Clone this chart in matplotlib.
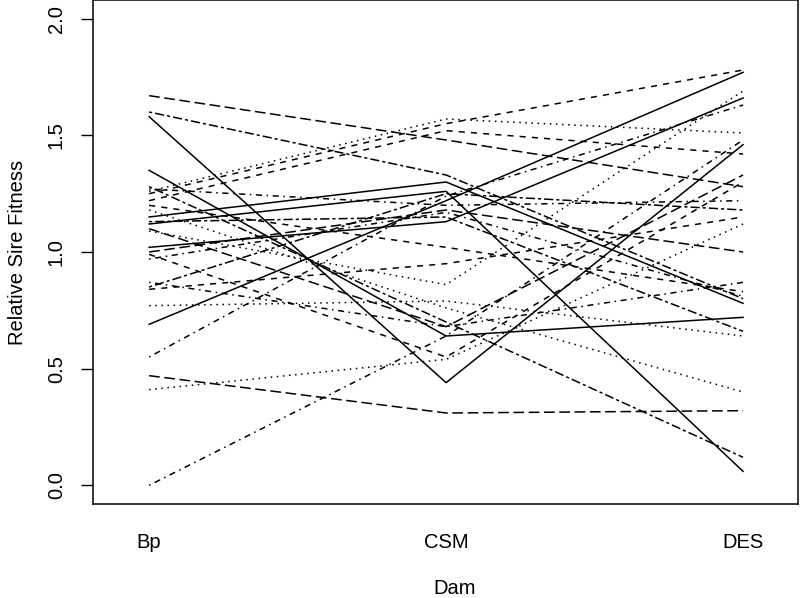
import matplotlib
matplotlib.use("Agg")
import matplotlib.pyplot as plt

dams = ['Bp', 'CSM', 'DES']

# fitness of each sire for the three dams (Bp, CSM, DES)
bp = [1.58, 1.35, 0.69, 1.15, 1.02, 1.12,
      1.25, 1.22, 0.84, 0.99, 1.20,
      1.26, 0.41, 1.18, 1.09, 0.77,
      0.00, 0.55, 0.87, 1.27, 0.97,
      1.67, 0.47, 1.10, 1.00,
      1.60, 1.28, 0.85, 1.13]
csm = [0.44, 0.64, 1.22, 1.30, 1.13, 1.26,
       1.55, 1.52, 0.95, 0.55, 1.02,
       1.57, 0.54, 0.76, 0.86, 0.79,
       0.64, 1.24, 0.68, 1.20, 1.17,
       1.48, 0.31, 0.68, 1.18,
       1.33, 0.70, 1.25, 1.15]
des = [1.46, 0.72, 1.77, 0.78, 1.66, 0.06,
       1.78, 1.42, 1.15, 1.30, 0.83,
       1.51, 1.12, 0.40, 1.69, 0.64,
       1.48, 1.63, 0.87, 1.22, 0.81,
       1.28, 0.32, 1.33, 1.00,
       0.80, 0.12, 1.18, 0.66]
lty = ['solid'] * 6 + ['dashed'] * 5 + ['dotted'] * 5 + ['dotdash'] * 5 + ['longdash'] * 4 + ['twodash'] * 4

# R line types
styles = {
    'solid': '-',
    'dashed': (0, (4, 4)),
    'dotted': (0, (1, 3)),
    'dotdash': (0, (1, 3, 4, 3)),
    'longdash': (0, (7, 3)),
    'twodash': (0, (2, 2, 6, 2)),
}

plt.rcParams['font.family'] = ['Liberation Sans', 'DejaVu Sans']

fig = plt.figure(figsize=(8, 5.98), dpi=100)
ax = fig.add_axes([93 / 800, 94 / 598, 705 / 800, 504 / 598])

x = [1, 2, 3]
for i in range(len(bp)):
  ax.plot(x, [bp[i], csm[i], des[i]], color='black', lw=1.1,
          linestyle=styles[lty[i]])

ax.set_xlim(0.811, 3.185)
ax.set_ylim(-0.08, 2.08)
ax.set_xticks(x)
ax.set_xticklabels(dams, fontsize=14.5)
ax.tick_params(axis='x', length=0, pad=21)
ax.set_yticks([0.0, 0.5, 1.0, 1.5, 2.0])
ax.set_yticklabels(['0.0', '0.5', '1.0', '1.5', '2.0'], fontsize=14.5,
                   rotation=90, va='center')
ax.tick_params(axis='y', length=8.6, width=1.0, pad=11)
for sp in ax.spines.values():
  sp.set_linewidth(1.1)

fig.text(455 / 800, 1 - 589 / 598, 'Dam', ha='center', va='center', fontsize=14.5)
fig.text(18 / 800, 1 - 252 / 598, 'Relative Sire Fitness', ha='center',
         va='center', rotation=90, fontsize=14.5)

fig.savefig('out.png', dpi=100)
